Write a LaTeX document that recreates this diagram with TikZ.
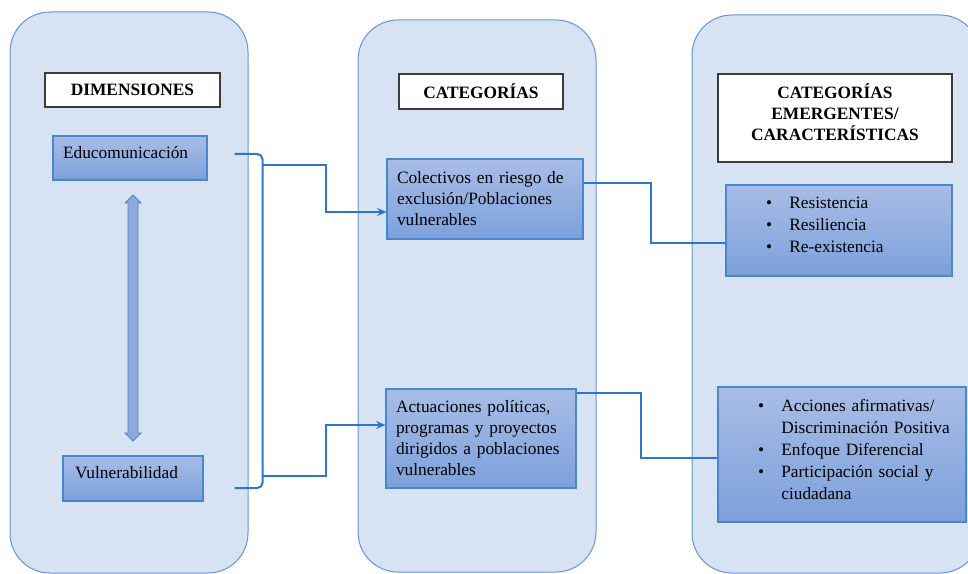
\documentclass[tikz,border=0pt]{standalone}
\usepackage{fontspec}
\setmainfont{Liberation Serif}
\usepackage{tikz}
\usetikzlibrary{arrows.meta,calc}

\definecolor{panelfill}{RGB}{215,227,243}
\definecolor{panelline}{RGB}{98,150,215}
\definecolor{boxtop}{RGB}{168,189,230}
\definecolor{boxbot}{RGB}{124,160,219}
\definecolor{boxline}{RGB}{72,134,208}
\definecolor{connline}{RGB}{46,118,204}
\definecolor{headline}{RGB}{60,60,60}
\definecolor{arrfill}{RGB}{142,170,219}

\newcommand{\bitem}[1]{\hspace*{30pt}\makebox[17.5pt][l]{\textbullet}#1}
\newcommand{\bcont}[1]{\hspace*{47.5pt}#1}

\begin{document}
\begin{tikzpicture}[x=0.75pt, y=-0.75pt, font=\fontsize{13}{15.75}\selectfont,
	panel/.style={draw=panelline, fill=panelfill, line width=0.75pt, rounded corners=30pt},
	headbox/.style={draw=headline, fill=white, line width=0.8pt, font=\fontsize{13}{15.75}\selectfont\bfseries, align=center, inner sep=0pt},
	catbox/.style={draw=boxline, top color=boxtop, bottom color=boxbot, line width=0.8pt, align=left, inner xsep=7.5pt, inner ysep=0pt},
	listbox/.style={draw=boxline, top color=boxtop, bottom color=boxbot, line width=0.8pt, align=left, inner xsep=0pt, inner ysep=0pt, font=\fontsize{13}{16.5}\selectfont},
	conn/.style={draw=connline, line width=1.5pt},
	dblarrow/.style={draw=boxline, fill=arrfill, line width=0.6pt, line join=miter}]
	\useasboundingbox (0,0) rectangle (968,574);
	\clip (0,0) rectangle (968,574);
	\draw[panel] (10,12) rectangle (248,573);
	\draw[panel] (358,20) rectangle (596,572);
	\draw[panel] (692,15) rectangle (980,573);
	% titles
	\node[headbox, minimum width=131.25pt, minimum height=25.5pt] (dim) at (132.5,90) {DIMENSIONES};
	\node[headbox, minimum width=123pt, minimum height=26.25pt] (cat) at (481,91.5) {CATEGORÍAS};
	\node[headbox, minimum width=175.5pt, minimum height=66pt, text depth=9pt] (emer) at (835,118) {CATEGORÍAS\\EMERGENTES/\\CARACTERÍSTICAS};
	% dimensions
	\node[catbox, text width=100.5pt, minimum height=33pt, text depth=9pt] (edu) at (130,158) {Educomunicación};
	\node[catbox, minimum height=33.75pt, text depth=9pt, inner xsep=9pt, text width=87pt] (vul) at (133,478.5) {Vulnerabilidad};
	\draw[dblarrow] (133,195) -- (141,203) -- (138,203) -- (138,433) -- (141,433) -- (133,441)
		-- (125,433) -- (128,433) -- (128,203) -- (125,203) -- cycle;
	% categories
	\node[catbox, text width=132pt, minimum height=60pt] (col) at (485,199) {Colectivos en riesgo de\\exclusión/Poblaciones\\vulnerables};
	\node[catbox, text width=127.5pt, minimum height=74.25pt] (act) at (481,438.5) {Actuaciones políticas,\\programas y proyectos\\dirigidos a poblaciones\\vulnerables};
	% emerging categories
	\node[listbox, text width=169.5pt, minimum height=68.25pt, text depth=42pt] (res) at (839,230.5) {\bitem{Resistencia}\\\bitem{Resiliencia}\\\bitem{Re-existencia}};
	\node[listbox, text width=186pt, minimum height=101.25pt, text depth=74pt] (acc) at (842,454.5) {\bitem{Acciones afirmativas/}\\\bcont{Discriminación Positiva}\\\bitem{Enfoque Diferencial}\\\bitem{Participación social y}\\\bcont{ciudadana}};
	% connectors
	\coordinate (bt) at ($(edu.east)+(27,-4)$);
	\coordinate (bb) at ($(vul.east)+(31,9.5)$);
	\draw[conn, rounded corners=4pt] (bt) -- ++(28,0) |- (bb);
	\coordinate (bu) at ($(bt)+(28,11)$);
	\coordinate (bl) at ($(bb)+(28,-12)$);
	\draw[conn, -{Stealth[length=7pt,width=6pt]}] (bu) -- ++(63,0) |- ($(col.west)+(0,13)$);
	\draw[conn, -{Stealth[length=7pt,width=6pt]}] (bl) -- ++(63,0) |- ($(act.west)+(0,-13.5)$);
	\draw[conn] ($(col.east)+(0,-16)$) -- ++(67,0) |- ($(res.west)+(0,12.5)$);
	\draw[conn] ($(act.east)+(0,-45.5)$) -- ++(64,0) |- ($(acc.west)+(0,3.5)$);
\end{tikzpicture}
\end{document}
